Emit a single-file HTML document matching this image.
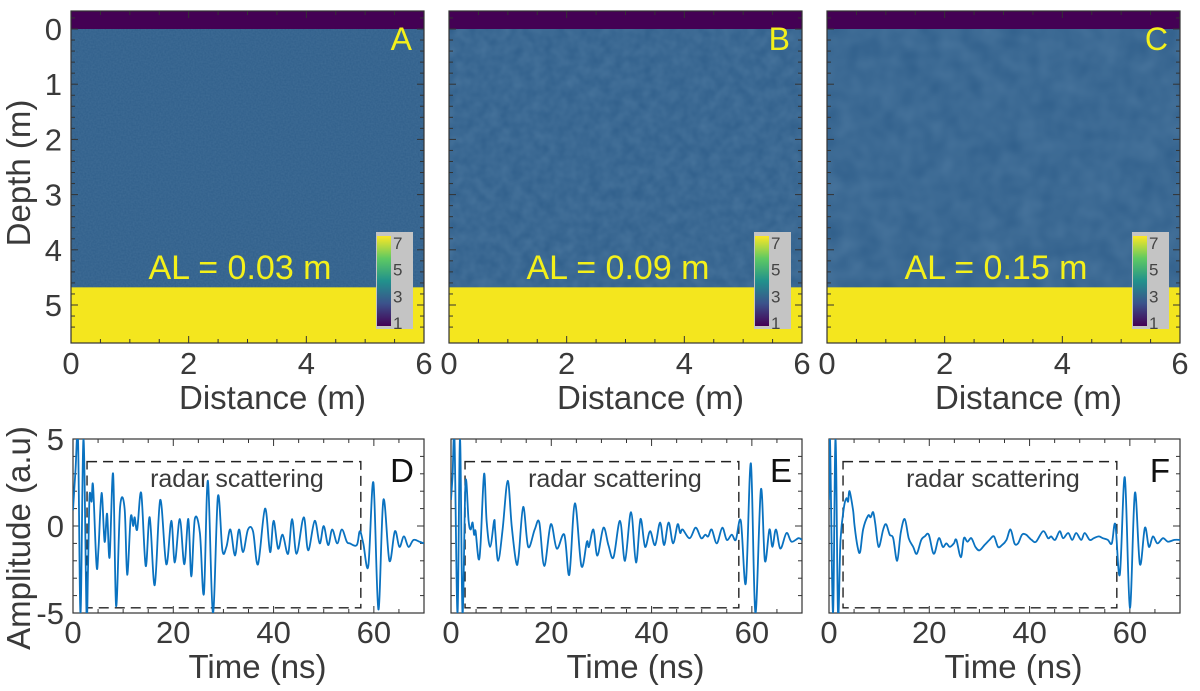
<!DOCTYPE html>
<html><head><meta charset="utf-8"><style>
body{margin:0;background:#fff}
svg{display:block;font-family:"Liberation Sans",Arial,sans-serif}
</style></head><body>
<svg id="fig" width="1200" height="691" viewBox="0 0 1200 691" xmlns="http://www.w3.org/2000/svg">
<defs>
<linearGradient id="vir" x1="0" y1="1" x2="0" y2="0">
<stop offset="0" stop-color="#440154"/><stop offset="0.25" stop-color="#3b528b"/><stop offset="0.5" stop-color="#21918c"/><stop offset="0.75" stop-color="#5ec962"/><stop offset="1" stop-color="#fde725"/>
</linearGradient>
<filter id="n1" x="0" y="0" width="100%" height="100%"><feTurbulence type="fractalNoise" baseFrequency="0.6" numOctaves="1" seed="3"/><feColorMatrix type="matrix" values="0 0 0 0 0.17  0 0 0 0 0.33  0 0 0 0 0.5  0 0 0 0.25 0"/></filter>
<filter id="n2" x="0" y="0" width="100%" height="100%"><feTurbulence type="fractalNoise" baseFrequency="0.09" numOctaves="2" seed="5"/><feColorMatrix type="matrix" values="0 0 0 0 0.21  0 0 0 0 0.38  0 0 0 0 0.56  0 0 0 0.3 0"/></filter>
<filter id="n3" x="0" y="0" width="100%" height="100%"><feTurbulence type="fractalNoise" baseFrequency="0.05" numOctaves="2" seed="8"/><feColorMatrix type="matrix" values="0 0 0 0 0.21  0 0 0 0 0.38  0 0 0 0 0.56  0 0 0 0.32 0"/></filter>
</defs>
</svg>
<script>
// ---- data ----
const alLabels = ["AL = 0.03 m","AL = 0.09 m","AL = 0.15 m"];
const topLetters = ["A","B","C"];
const botLetters = ["D","E","F"];
const distTicks = [0,2,4,6];
const depthTicks = [0,1,2,3,4,5];
const timeTicks = [0,20,40,60];
const ampTicks = [5,0,-5];
const cbTicks = [7,5,3,1];
const airDepth = 0;
const bedDepth = 4.68;
const boxT = [2.8,57.4];
const boxA = [3.7,-4.7];
const tD = [0,0.5,1,1.5,2.1,2.7,3,3.3,3.7,4,4.7,5.1,5.7,6.3,6.8,7.3,8,8.6,9.4,10.3,10.8,11.5,12,12.3,12.8,13.6,14.5,15.3,16.3,17.4,18.6,19.6,20.3,21.3,22.2,23,23.6,24.3,25.3,26.1,26.9,27.9,28.9,29.8,30.6,31.4,32.3,33.1,33.9,34.9,35.9,36.9,38.3,39.3,40,40.9,41.8,42.9,43.7,44.6,46,46.9,48.2,49.2,50,50.9,51.7,52.7,53.6,54.6,55.2,56.6,57.2,57.9,58.9,59.9,60.9,61.9,63.1,64.2,65.1,66,66.9,67.9,69.1,70];
const aD = [0.9,3.2,5,-5,5,-5,-2.5,1.7,1.4,2.3,-2.3,-1.2,1.9,-0.9,0.7,-1.8,3,-4.6,1.1,1,-2.8,0.5,0,0.5,-0.2,1.9,-2.3,0.5,-3.4,1.5,-2.2,0.3,-2.1,0.4,-2.2,0.4,-2.9,0.4,-0.4,-3.9,2.6,-5,1.7,-1.4,-1.2,-0.2,-1.7,-0.2,-1.5,-0.2,-0.3,-2.2,1,-1.5,0.3,-1.3,-0.5,-1.6,0.4,-1.6,0.5,-1.4,0.3,-1,0,-1.1,-0.2,-1,-0.2,-0.9,-1,-1.1,-0.3,-1,-2.3,2.5,-4.8,1.5,-2,-0.3,-1.2,-0.6,-1.2,-0.8,-0.9,-1];
const tE = [0,0.3,0.7,1.3,1.8,2.3,2.9,3.5,3.9,4.3,4.6,4.9,5.5,5.9,6.6,7.1,7.8,8.6,8.8,9.4,10.3,11.3,12.1,13,13.5,14.4,15.4,16.7,17.6,18.6,19.9,21.1,22.6,23.6,24.7,26,27.1,27.5,28.4,29.2,30.4,31.4,32.4,33.7,34.7,35.9,36.9,37.8,38.7,39.7,40.7,41.7,42.5,43.4,44.3,45.2,45.7,46.2,47.6,48.8,49.9,50.7,51.3,52,53,54.1,55,56,56.8,57.8,58.8,59.8,60.7,61.8,62.6,63.5,64.1,64.8,65.7,66.9,67.9,69.3,70];
const aE = [1.5,2.8,5,-5,5,-5,2.5,0.3,-0.2,0.2,-0.5,-0.3,-1.9,-1,3,0.3,-1.2,0.3,-0.2,-2,-0.2,2.6,0,-2.1,-1.7,1.1,-1.2,-0.2,0.2,-2.3,0.1,-1.3,-0.5,-2.8,1.3,-2.3,-0.9,-1.2,-0.2,-1.7,-0.1,-1.1,-1.8,0.3,-2,0.8,-2.1,0.4,-1.2,-0.3,-1.1,0.2,-1.1,0.2,-1,0.1,-0.4,-0.2,-0.7,-0.1,-0.7,-0.5,-0.6,-0.2,-1,-0.1,-0.8,-0.5,-0.8,0.3,-3.3,3.6,-5,2.1,-2,-0.2,-1.2,-0.2,-1.3,-0.4,-0.9,-0.7,-0.8];
const tF = [0,0.2,0.8,1.3,1.8,2.3,3,3.5,3.8,4.1,4.8,5.1,5.7,6.2,6.8,7.8,8.3,8.8,9.2,9.9,10.8,11.4,12.1,12.8,13.6,14.3,15.1,15.9,16.8,17.5,18.4,19.1,19.9,20.9,21.9,22.7,23.4,24.1,24.9,25.4,26.3,26.9,27.6,28.4,29.2,30,31,32,32.9,33.7,34.5,35.4,36.2,37,37.7,38.5,39.3,40.4,41.3,42.7,43.7,44.3,45.1,46,46.7,47.7,48.5,49.3,50.3,51,52,52.8,53.8,54.6,55.6,56.4,57.1,58,59,60,61,62,63,63.8,64.6,65.5,66.6,67.6,68.9,70];
const aF = [1.5,5,-5,5,-5,-0.8,1.1,1.6,1.4,2,0.9,0,-1.2,-1.5,-0.2,0.6,0.5,0.8,0.2,-1.2,-0.2,0.1,-0.5,-0.7,-2,-0.4,0.4,-0.7,-1.2,-1.6,-0.8,-0.6,-0.5,-1.6,-0.7,-1.2,-1,-1.2,-1,-0.8,-1.8,-0.7,-0.9,-0.7,-1.2,-1.4,-1.1,-0.8,-0.6,-1.2,-1.1,-0.8,-0.2,-1,-1,-0.5,-0.5,-0.8,-0.9,-0.3,-0.7,-0.6,-0.8,-0.3,-0.7,-0.4,-0.8,-0.4,-0.8,-0.4,-0.8,-0.7,-0.6,-0.7,-0.8,-1,0.1,-2.8,2.8,-4.7,1.9,-2.2,-0.1,-1.2,-0.6,-1,-0.7,-0.9,-0.8,-0.8];
const series = [[tD,aD],[tE,aE],[tF,aF]];

const NS="http://www.w3.org/2000/svg";
const svg=document.getElementById('fig');
function mk(tag,attrs,parent){const e=document.createElementNS(NS,tag);for(const k in attrs)e.setAttribute(k,attrs[k]);(parent||svg).appendChild(e);return e;}
const txtCol="#3a3a3a";
const topX=[71,449,827], botX=[73,451,829], W=353, botW=351;
const FT=31, FA=33;

function smooth(pts){
  let d='M'+pts[0][0].toFixed(1)+','+pts[0][1].toFixed(1);
  for(let i=0;i<pts.length-1;i++){
    const p0=pts[Math.max(0,i-1)],p1=pts[i],p2=pts[i+1],p3=pts[Math.min(pts.length-1,i+2)];
    const c1=[p1[0]+(p2[0]-p0[0])/6,p1[1]+(p2[1]-p0[1])/6];
    const c2=[p2[0]-(p3[0]-p1[0])/6,p2[1]-(p3[1]-p1[1])/6];
    d+='C'+c1[0].toFixed(1)+','+c1[1].toFixed(1)+' '+c2[0].toFixed(1)+','+c2[1].toFixed(1)+' '+p2[0].toFixed(1)+','+p2[1].toFixed(1);
  }
  return d;
}

for(let p=0;p<3;p++){
  const g=mk('g',{});
  
  
  const x0=topX[p];
  const xs=d=>x0+d/6*W;
  const ys=d=>29+d*55.2;
  const yTop=11, yBot=343;
  const bg=mk('rect',{x:x0,y:yTop,width:W,height:yBot-yTop,fill:'#2f5e8a'},g);
  
  
  mk('rect',{x:x0,y:ys(airDepth),width:W,height:ys(bedDepth)-ys(airDepth),fill:'#000',filter:'url(#n'+(p+1)+')'},g);
  const air=mk('rect',{x:x0,y:yTop,width:W,height:ys(airDepth)-yTop,fill:'#440154'},g);
  
  
  const bed=mk('rect',{x:x0,y:ys(bedDepth),width:W,height:yBot-ys(bedDepth),fill:'#f4e61e'},g);
  
  
  mk('rect',{x:x0,y:yTop,width:W,height:yBot-yTop,fill:'none',stroke:'#333','stroke-width':1.2},g);
  for(let d=0;d<=6.001;d+=0.5){const X=xs(d),L=(Math.abs(d%2)<1e-6)?7:4;
    mk('line',{x1:X,y1:yBot,x2:X,y2:yBot-L,stroke:'#333'},g);mk('line',{x1:X,y1:yTop,x2:X,y2:yTop+L,stroke:'#333'},g);}
  for(let d=-0.2;d<=5.6;d+=0.2){const Y=ys(d),L=(Math.abs(d-Math.round(d))<1e-6)?7:4;
    mk('line',{x1:x0,y1:Y,x2:x0+L,y2:Y,stroke:'#333'},g);mk('line',{x1:x0+W,y1:Y,x2:x0+W-L,y2:Y,stroke:'#333'},g);}
  distTicks.forEach(v=>{const t=mk('text',{x:xs(v),y:374,'font-size':FT,fill:txtCol,'text-anchor':'middle'},g);t.textContent=v;
    });
  if(p===0){depthTicks.forEach(v=>{const t=mk('text',{x:62,y:ys(v)+11,'font-size':FT,fill:txtCol,'text-anchor':'end'},g);t.textContent=v;
    });
    const yl=mk('text',{x:0,y:0,'font-size':FA,fill:txtCol,'text-anchor':'middle',transform:'translate(30,173) rotate(-90)'},g);yl.textContent='Depth (m)';
    }
  const xl=mk('text',{x:x0+W/2+25,y:409,'font-size':FA,fill:txtCol,'text-anchor':'middle'},g);xl.textContent='Distance (m)';
  
  const lt=mk('text',{x:x0+W-12,y:50,'font-size':32,fill:'#f4f01a','text-anchor':'end'},g);lt.textContent=topLetters[p];
  
  const al=mk('text',{x:x0+169,y:279,'font-size':34,fill:'#f4f01a','text-anchor':'middle'},g);al.textContent=alLabels[p];
  
  const cb=mk('g',{},g);
  mk('rect',{x:x0+305,y:232,width:37,height:97,fill:'#c4c4c4'},cb);
  mk('rect',{x:x0+306,y:236,width:14,height:90,fill:'url(#vir)'},cb);
  cbTicks.forEach(v=>{const t=mk('text',{x:x0+322,y:236+(7-v)/6*80+13,'font-size':17,fill:'#444'},cb);t.textContent=v;
    });

  const h=mk('g',{});
  
  
  const bx=botX[p], bT=439, bB=613;
  const tx=t=>bx+t/70*botW, ay=a=>bT+(5-a)/10*(bB-bT);
  mk('rect',{x:bx,y:bT,width:botW,height:bB-bT,fill:'#fff',stroke:'#333','stroke-width':1.2},h);
  for(let t=0;t<=70.001;t+=5){const X=tx(t),L=(t%20===0)?7:4;
    mk('line',{x1:X,y1:bB,x2:X,y2:bB-L,stroke:'#333'},h);mk('line',{x1:X,y1:bT,x2:X,y2:bT+L,stroke:'#333'},h);}
  for(let a=-5;a<=5;a++){const Y=ay(a),L=(a%5===0)?7:4;
    mk('line',{x1:bx,y1:Y,x2:bx+L,y2:Y,stroke:'#333'},h);mk('line',{x1:bx+botW,y1:Y,x2:bx+botW-L,y2:Y,stroke:'#333'},h);}
  const box=mk('rect',{x:tx(boxT[0]),y:ay(boxA[0]),width:tx(boxT[1])-tx(boxT[0]),height:ay(boxA[1])-ay(boxA[0]),fill:'none',stroke:'#222','stroke-width':1.4,'stroke-dasharray':'10,6'},h);
  
  const bt=mk('text',{x:(tx(boxT[0])+tx(boxT[1]))/2+13,y:487,'font-size':25,fill:txtCol,'text-anchor':'middle'},h);bt.textContent='radar scattering';
  
  const [ts,as]=series[p];
  const cl=mk('clipPath',{id:'cl'+p},h);mk('rect',{x:bx,y:bT,width:botW,height:bB-bT},cl);
  const pts=ts.map((t,i)=>[tx(t),ay(as[i])]);
  const ln=mk('path',{d:smooth(pts),fill:'none',stroke:'#0a72c0','stroke-width':1.8,'stroke-linejoin':'round','clip-path':'url(#cl'+p+')'},h);
  
  const bl=mk('text',{x:bx+botW-10,y:482,'font-size':33,fill:'#111','text-anchor':'end'},h);bl.textContent=botLetters[p];
  
  timeTicks.forEach(v=>{const t=mk('text',{x:tx(v),y:643,'font-size':FT,fill:txtCol,'text-anchor':'middle'},h);t.textContent=v;
    });
  const tl=mk('text',{x:bx+botW/2+9,y:678,'font-size':FA,fill:txtCol,'text-anchor':'middle'},h);tl.textContent='Time (ns)';
  
  if(p===0){ampTicks.forEach(v=>{const t=mk('text',{x:64,y:ay(v)+11,'font-size':FT,fill:txtCol,'text-anchor':'end'},h);t.textContent=(v<0?'-':'')+Math.abs(v);
    });
    const al2=mk('text',{x:0,y:0,'font-size':FA,fill:txtCol,'text-anchor':'middle',transform:'translate(30,538) rotate(-90)'},h);al2.textContent='Amplitude (a.u)';
    }
}
</script>
</body></html>
